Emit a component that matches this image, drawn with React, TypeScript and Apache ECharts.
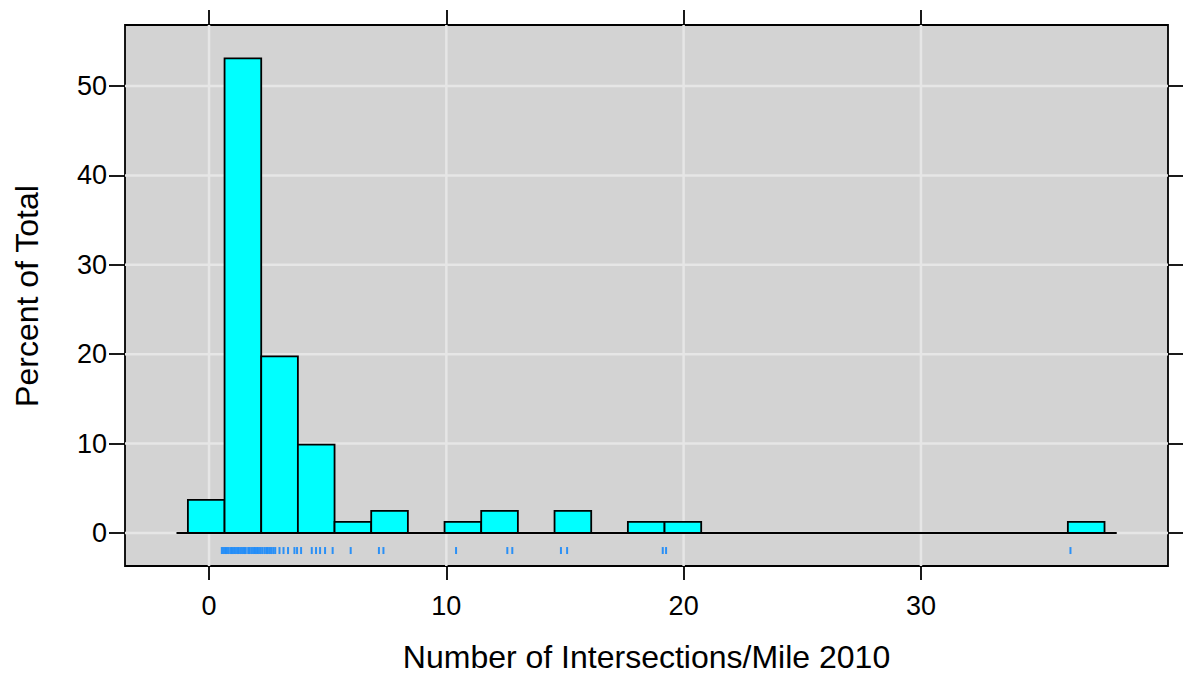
import React, { useEffect, useRef } from "react";
import * as echarts from "echarts";

// Histogram data (lattice-style, 25 equal-width bins)
const BREAK_START = -0.89;
const BIN_WIDTH = 1.545;
const binCounts = [3, 43, 16, 8, 1, 2, 0, 1, 2, 0, 2, 0, 1, 1, 0, 0, 0, 0, 0, 0, 0, 0, 0, 0, 1];
const totalCount = 81;

// Raw observations shown in the rug
const rugValues = [
  0.54, 0.61, 0.68, 0.75, 0.82, 0.9, 0.97, 1.05, 1.12, 1.19, 1.26, 1.34, 1.41, 1.48, 1.55,
  1.65, 1.72, 1.8, 1.87, 1.94, 2.02, 2.09, 2.16, 2.24, 2.33, 2.41, 2.48, 2.56, 2.63, 2.71, 2.79,
  2.97, 3.14, 3.33, 3.6, 3.71, 3.88, 4.33, 4.51, 4.68, 4.89, 5.21, 5.97, 7.16, 7.35,
  10.41, 12.57, 12.78, 14.83, 15.09, 19.12, 19.26, 36.3,
];

const xTicks = [0, 10, 20, 30];
const yTicks = [0, 10, 20, 30, 40, 50];
const X_MIN = -3.54;
const X_MAX = 40.41;
const Y_MIN = -3.69;
const Y_MAX = 56.82;
const BASELINE_RANGE = [-1.37, 38.25];
const RUG_Y = -1.96;

const xTitle = "Number of Intersections/Mile 2010";
const yTitle = "Percent of Total";

const FONT = "'Liberation Sans', Arial, Helvetica, sans-serif";

export default function App() {
  const ref = useRef<HTMLDivElement>(null);

  useEffect(() => {
    document.body.style.margin = "0";
    if (!ref.current) return;
    const chart = echarts.init(ref.current, null, { renderer: "svg" });

    const bars = binCounts
      .map((c, i) => [BREAK_START + i * BIN_WIDTH, BREAK_START + (i + 1) * BIN_WIDTH, (c / totalCount) * 100])
      .filter((d) => d[2] > 0);

    const axisCommon = {
      type: "value" as const,
      axisLine: { show: false, onZero: false },
      splitLine: { show: false },
    };
    const tickStyle = { color: "#000", width: 1.8 };

    const option: any = {
      animation: false,
      grid: {
        left: 125,
        top: 25,
        width: 1043,
        height: 541,
        show: true,
        backgroundColor: "#d3d3d3",
        borderColor: "#000",
        borderWidth: 1.8,
      },
      xAxis: [
        {
          ...axisCommon,
          position: "bottom",
          min: X_MIN,
          max: X_MAX,
          axisTick: { show: true, length: 14, customValues: xTicks, lineStyle: tickStyle },
          axisLabel: { customValues: xTicks, fontSize: 27, color: "#000", fontFamily: FONT, margin: 26 },
        },
        {
          ...axisCommon,
          position: "top",
          min: X_MIN,
          max: X_MAX,
          axisTick: { show: true, length: 15, customValues: xTicks, lineStyle: tickStyle },
          axisLabel: { show: false },
        },
      ],
      yAxis: [
        {
          ...axisCommon,
          position: "left",
          min: Y_MIN,
          max: Y_MAX,
          axisTick: { show: true, length: 16, customValues: yTicks, lineStyle: tickStyle },
          axisLabel: { customValues: yTicks, fontSize: 27, color: "#000", fontFamily: FONT, margin: 18 },
        },
        {
          ...axisCommon,
          position: "right",
          min: Y_MIN,
          max: Y_MAX,
          axisTick: { show: true, length: 15, customValues: yTicks, lineStyle: tickStyle },
          axisLabel: { show: false },
        },
      ],
      graphic: [
        {
          type: "text",
          x: 646.5,
          y: 657,
          style: {
            text: xTitle,
            fontSize: 32,
            fontFamily: FONT,
            fill: "#000",
            textAlign: "center",
            textVerticalAlign: "middle",
          },
        },
        {
          type: "text",
          x: 27,
          y: 296,
          rotation: Math.PI / 2,
          style: {
            text: yTitle,
            fontSize: 32,
            fontFamily: FONT,
            fill: "#000",
            textAlign: "center",
            textVerticalAlign: "middle",
          },
        },
      ],
      series: [
        {
          type: "custom",
          silent: true,
          z: 1,
          xAxisIndex: 0,
          yAxisIndex: 0,
          data: xTicks.map((v) => [v]),
          encode: { x: 0 },
          renderItem: (params: any, api: any) => {
            const cs = params.coordSys;
            const px = api.coord([api.value(0), 0])[0];
            return {
              type: "line",
              shape: { x1: px, y1: cs.y, x2: px, y2: cs.y + cs.height },
              style: { stroke: "#e6e6e6", lineWidth: 2.5 },
            };
          },
        },
        {
          type: "custom",
          silent: true,
          z: 1,
          xAxisIndex: 0,
          yAxisIndex: 0,
          data: yTicks.map((v) => [0, v]),
          encode: { y: 1 },
          renderItem: (params: any, api: any) => {
            const cs = params.coordSys;
            const py = api.coord([0, api.value(1)])[1];
            return {
              type: "line",
              shape: { x1: cs.x, y1: py, x2: cs.x + cs.width, y2: py },
              style: { stroke: "#e6e6e6", lineWidth: 2.5 },
            };
          },
        },
        {
          type: "line",
          z: 2,
          silent: true,
          symbol: "none",
          data: [
            [BASELINE_RANGE[0], 0],
            [BASELINE_RANGE[1], 0],
          ],
          lineStyle: { color: "#000", width: 1.8 },
        },
        {
          type: "custom",
          z: 3,
          silent: true,
          data: bars,
          encode: { x: [0, 1], y: 2 },
          renderItem: (params: any, api: any) => {
            const tl = api.coord([api.value(0), api.value(2)]);
            const br = api.coord([api.value(1), 0]);
            return {
              type: "rect",
              shape: { x: tl[0], y: tl[1], width: br[0] - tl[0], height: br[1] - tl[1] },
              style: { fill: "#00ffff", stroke: "#000", lineWidth: 1.8 },
            };
          },
        },
        {
          type: "scatter",
          z: 3,
          silent: true,
          symbol: "rect",
          symbolSize: [2, 7],
          itemStyle: { color: "#0080ff" },
          data: rugValues.map((v) => [v, RUG_Y]),
        },
      ],
    };

    chart.setOption(option);
    return () => chart.dispose();
  }, []);

  return <div ref={ref} style={{ width: 1185, height: 675 }} />;
}
